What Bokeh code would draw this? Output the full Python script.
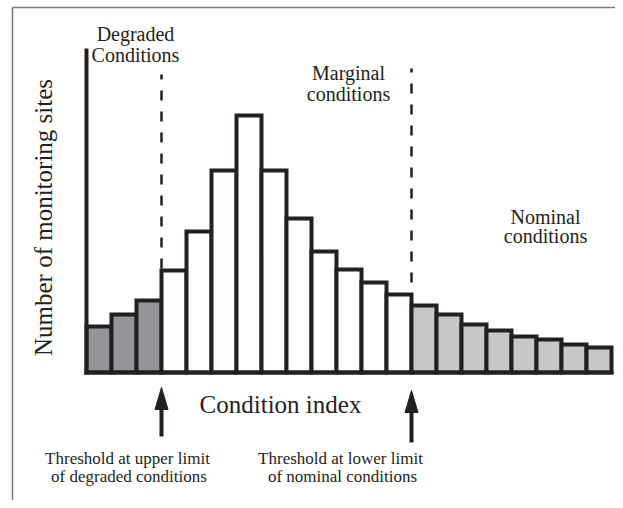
from bokeh.plotting import figure
from bokeh.models import Range1d, ColumnDataSource
from bokeh.core.properties import value
from bokeh.embed import file_html
from bokeh.resources import INLINE

# ---- data ----
site_counts = [46, 58, 72, 102, 141, 202, 257, 202, 154, 121, 103, 90, 78, 67, 58, 48, 42, 36, 33, 28, 25]
condition_class = (["degraded"] * 3) + (["marginal"] * 10) + (["nominal"] * 8)
class_colors = {"degraded": "#939598", "marginal": "#ffffff", "nominal": "#c7c8ca"}
upper_degraded_threshold = 3
lower_nominal_threshold = 13

W, H = 615, 500
PX_PER_UNIT = 25.0
X0 = 86.0
Y0 = 372.0

p = figure(width=W, height=H, output_backend="svg", toolbar_location=None,
           x_range=Range1d(-X0 / PX_PER_UNIT, (W - X0) / PX_PER_UNIT),
           y_range=Range1d(Y0 - H, Y0), min_border=0)
p.axis.visible = False
p.grid.visible = False
p.outline_line_color = None
p.background_fill_color = "white"
p.border_fill_color = "white"

INK = "#231f20"
SERIF = value("Liberation Serif")

fx = (12 - X0) / PX_PER_UNIT
p.segment(x0=[fx], y0=[Y0 - 7], x1=[30], y1=[Y0 - 7], line_color="#7a7a7a", line_width=1.5)
p.segment(x0=[fx], y0=[Y0 - 7], x1=[fx], y1=[Y0 - H - 5], line_color="#7a7a7a", line_width=1.5)

n = len(site_counts)
src = ColumnDataSource(dict(
    left=list(range(n)),
    right=[i + 1 for i in range(n)],
    top=site_counts,
    color=[class_colors[c] for c in condition_class],
))
p.quad(left="left", right="right", bottom=0, top="top", fill_color="color",
       line_color=INK, line_width=4, line_join="miter", source=src)

p.segment(x0=[0], y0=[-2], x1=[0], y1=[324], line_color=INK, line_width=4)
p.segment(x0=[-0.08], y0=[0], x1=[n + 0.08], y1=[0], line_color=INK, line_width=4)

t1, t2 = upper_degraded_threshold, lower_nominal_threshold
p.segment(x0=[t1, t2], y0=[site_counts[t1] + 2, site_counts[t2] + 2],
          x1=[t1, t2], y1=[298, 304], line_color=INK, line_width=2.5, line_dash="10 11")

p.segment(x0=[t1, t2], y0=[-64, -70], x1=[t1, t2], y1=[-30, -33], line_color=INK, line_width=4)
hw = 6.5 / PX_PER_UNIT
p.patches(xs=[[t1 - hw, t1, t1 + hw], [t2 - hw, t2, t2 + hw]],
          ys=[[-37, -15, -37], [-40, -18, -40]], fill_color=INK, line_color=INK, line_width=1)

def label(x, y, txt, size, angle=0.0, align="center"):
    p.text(x=[x], y=[y], text=[txt], text_font=SERIF, text_font_size=value(size),
           text_color=INK, text_align=align, text_baseline="alphabetic", angle=angle)

label(1.96, 339, "Degraded", "20px")
label(1.96, 318, "Conditions", "20px")
label(10.48, 300, "Marginal", "20px")
label(10.48, 279, "conditions", "20px")
label(18.36, 156, "Nominal", "20px")
label(18.36, 137, "conditions", "20px")
label(7.76, -32, "Condition index", "25px")
label(-1.72, 155, "Number of monitoring sites", "25px", angle=1.5708)
label(1.64, -86, "Threshold at upper limit", "17px")
label(1.70, -104, "of degraded conditions", "17px")
label(10.16, -86, "Threshold at lower limit", "17px")
label(10.24, -104, "of nominal conditions", "17px")

open("out.html", "w").write(file_html(p, INLINE))
